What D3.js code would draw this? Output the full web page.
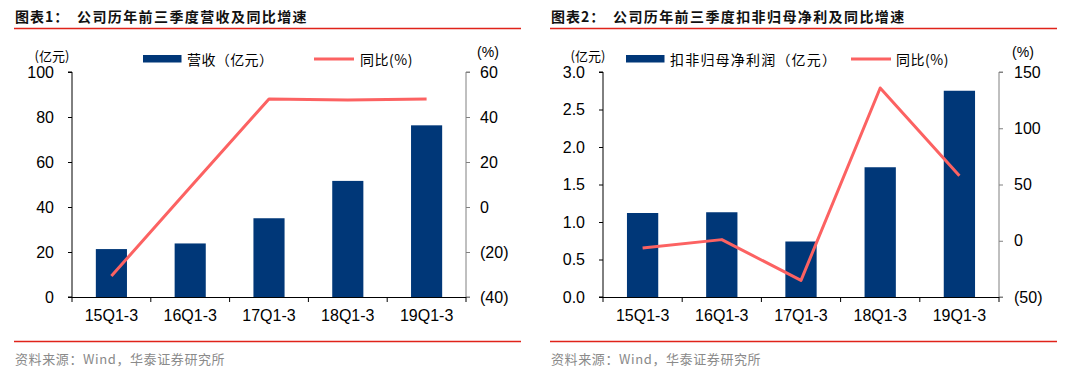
<!DOCTYPE html>
<html>
<head>
<meta charset="utf-8">
<script src="https://cdn.jsdelivr.net/npm/d3@7"></script>
<style>
  html, body { margin: 0; padding: 0; background: #fff; }
  svg { display: block; }
  text { font-family: "Liberation Sans", Arial, sans-serif; }
  .cjk { font-family: "Noto Sans CJK SC", "Liberation Sans", sans-serif; }
</style>
</head>
<body>
<svg id="chart" width="1066" height="382"></svg>
<script>
// ---------- data ----------
const categories = ["15Q1-3", "16Q1-3", "17Q1-3", "18Q1-3", "19Q1-3"];
const revenue = [21.3, 23.8, 35.0, 51.6, 76.3];          // 营收（亿元）
const revenueYoY = [-30.7, 8.8, 48.0, 47.6, 48.0];        // 同比(%)
const profit = [1.12, 1.13, 0.74, 1.73, 2.75];            // 扣非归母净利润（亿元）
const profitYoY = [-6.4, 1.0, -35.2, 135.8, 57.8];        // 同比(%)
const leftTicks1 = [0, 20, 40, 60, 80, 100];
const rightTicks1 = [-40, -20, 0, 20, 40, 60];
const leftTicks2 = [0, 0.5, 1.0, 1.5, 2.0, 2.5, 3.0];
const rightTicks2 = [-50, 0, 50, 100, 150];
const titles = ["公司历年前三季度营收及同比增速", "公司历年前三季度扣非归母净利及同比增速"];
const titlePrefixes = ["图表1：", "图表2："];
const barLegends = ["营收（亿元）", "扣非归母净利润（亿元）"];
const lineLegend = "同比(%)";
const source = "资料来源：Wind，华泰证券研究所";

const BAR = "#003778", LINE = "#fc6262", RED = "#e0231a";
const svg = d3.select("#chart");

const fmtPct = d => d < 0 ? "(" + Math.abs(d) + ")" : String(d);

function drawChart(cfg) {
  const g = svg.append("g");
  const top = 72, bottom = 297;

  // title
  g.append("text").attr("class", "cjk").attr("x", cfg.panelX + 1).attr("y", 22)
    .attr("font-size", 14).attr("font-weight", "bold").attr("fill", "#111")
    .attr("letter-spacing", 1).text(cfg.prefix);
  g.append("text").attr("class", "cjk").attr("x", cfg.panelX + 63).attr("y", 22)
    .attr("font-size", 14).attr("font-weight", "bold").attr("fill", "#111")
    .attr("letter-spacing", 1.4).text(cfg.title);
  g.append("line").attr("x1", cfg.panelX).attr("x2", cfg.panelX2)
    .attr("y1", 28.5).attr("y2", 28.5).attr("stroke", RED).attr("stroke-width", 1.3);
  // bottom line + source
  g.append("line").attr("x1", cfg.panelX).attr("x2", cfg.panelX2)
    .attr("y1", 341.5).attr("y2", 341.5).attr("stroke", RED).attr("stroke-width", 1.3);
  g.append("text").attr("class", "cjk").attr("x", cfg.panelX + 1).attr("y", 364)
    .attr("font-size", 13).attr("fill", "#8a8a8a").attr("letter-spacing", 0.6).text(source);

  const x = d3.scaleBand().domain(categories).range([cfg.x0, cfg.x1])
    .paddingInner(0.605).paddingOuter(0.3025);
  const step = x.step();
  const yL = d3.scaleLinear().domain([cfg.leftTicks[0], cfg.leftTicks[cfg.leftTicks.length - 1]]).range([bottom, top]);
  const yR = d3.scaleLinear().domain([cfg.rightTicks[0], cfg.rightTicks[cfg.rightTicks.length - 1]]).range([bottom, top]);

  // bars
  g.append("g").selectAll("rect").data(cfg.bars).join("rect")
    .attr("x", (d, i) => x(categories[i]))
    .attr("width", x.bandwidth())
    .attr("y", d => yL(d))
    .attr("height", d => yL(cfg.leftTicks[0]) - yL(d))
    .attr("fill", BAR);

  // left axis
  const aL = g.append("g").attr("transform", `translate(${cfg.x0},0)`)
    .call(d3.axisLeft(yL).tickValues(cfg.leftTicks).tickSize(4).tickPadding(14).tickFormat(cfg.leftFmt));
  aL.select(".domain").attr("stroke", "#000").attr("d", `M-4,${top}H0V${bottom}H-4`);
  aL.selectAll(".tick line").attr("stroke", "#000");
  aL.selectAll("text").attr("font-size", 16).attr("fill", "#000")
    .attr("font-family", "Liberation Sans, Arial, sans-serif");

  // right axis
  const aR = g.append("g").attr("transform", `translate(${cfg.x1},0)`)
    .call(d3.axisRight(yR).tickValues(cfg.rightTicks).tickSize(4).tickPadding(cfg.rightPad).tickFormat(fmtPct));
  aR.select(".domain").attr("stroke", "#808080").attr("d", `M4,${top}H0V${bottom}H4`);
  aR.selectAll(".tick line").attr("stroke", "#808080");
  aR.selectAll("text").attr("font-size", 16).attr("fill", "#000")
    .attr("font-family", "Liberation Sans, Arial, sans-serif");

  // bottom axis
  const aB = g.append("g").attr("transform", `translate(0,${bottom})`)
    .call(d3.axisBottom(x).tickSize(0).tickPadding(13));
  aB.select(".domain").attr("stroke", "#000").attr("d", `M${cfg.x0},0.5H${cfg.x1}`);
  aB.selectAll("text").attr("font-size", 16).attr("fill", "#000")
    .attr("font-family", "Liberation Sans, Arial, sans-serif");
  // boundary ticks
  const bounds = d3.range(categories.length + 1).map(i => cfg.x0 + i * step);
  aB.selectAll(".btick").data(bounds).join("line").attr("class", "btick")
    .attr("x1", d => d).attr("x2", d => d).attr("y1", 0).attr("y2", 5)
    .attr("stroke", "#000");

  // line
  const line = d3.line().x((d, i) => x(categories[i]) + x.bandwidth() / 2).y(d => yR(d));
  g.append("path").datum(cfg.yoy).attr("d", line)
    .attr("fill", "none").attr("stroke", LINE).attr("stroke-width", 3).attr("stroke-linejoin", "round");

  // unit labels
  g.append("text").attr("class", "cjk").attr("x", cfg.unitLX).attr("y", 55)
    .attr("text-anchor", "middle").attr("dominant-baseline", "central")
    .attr("font-size", 13).attr("fill", "#000").text("(亿元)");
  g.append("text").attr("x", cfg.unitRX).attr("y", 52)
    .attr("text-anchor", "middle").attr("dominant-baseline", "central")
    .attr("font-size", 14).attr("fill", "#000").text("(%)");

  // legend
  const lg = cfg.legend;
  g.append("rect").attr("x", lg.barX).attr("y", 55).attr("width", 38.5).attr("height", 7.5).attr("fill", BAR);
  g.append("text").attr("class", "cjk").attr("x", lg.barTextX).attr("y", 59)
    .attr("dominant-baseline", "central").attr("font-size", 14).attr("fill", "#000")
    .attr("letter-spacing", lg.spacing).text(cfg.barLegend);
  g.append("line").attr("x1", lg.lineX).attr("x2", lg.lineX + 40).attr("y1", 59).attr("y2", 59)
    .attr("stroke", LINE).attr("stroke-width", 3);
  g.append("text").attr("class", "cjk").attr("x", lg.lineTextX).attr("y", 59)
    .attr("dominant-baseline", "central").attr("font-size", 14).attr("fill", "#000")
    .attr("letter-spacing", 0.5).text(lineLegend);
}

drawChart({
  panelX: 14, panelX2: 521, prefix: titlePrefixes[0], title: titles[0],
  x0: 72, x1: 466, leftTicks: leftTicks1, rightTicks: rightTicks1,
  leftFmt: d3.format("d"), rightPad: 10, bars: revenue, yoy: revenueYoY,
  unitLX: 52, unitRX: 488, barLegend: barLegends[0],
  legend: { barX: 143, barTextX: 187, lineX: 314, lineTextX: 360, spacing: 0.4 }
});
drawChart({
  panelX: 550, panelX2: 1057, prefix: titlePrefixes[1], title: titles[1],
  x0: 603, x1: 999, leftTicks: leftTicks2, rightTicks: rightTicks2,
  leftFmt: d3.format(".1f"), rightPad: 11, bars: profit, yoy: profitYoY,
  unitLX: 588, unitRX: 1023, barLegend: barLegends[1],
  legend: { barX: 626, barTextX: 670, lineX: 851, lineTextX: 896, spacing: 1.2 }
});
</script>
</body>
</html>
